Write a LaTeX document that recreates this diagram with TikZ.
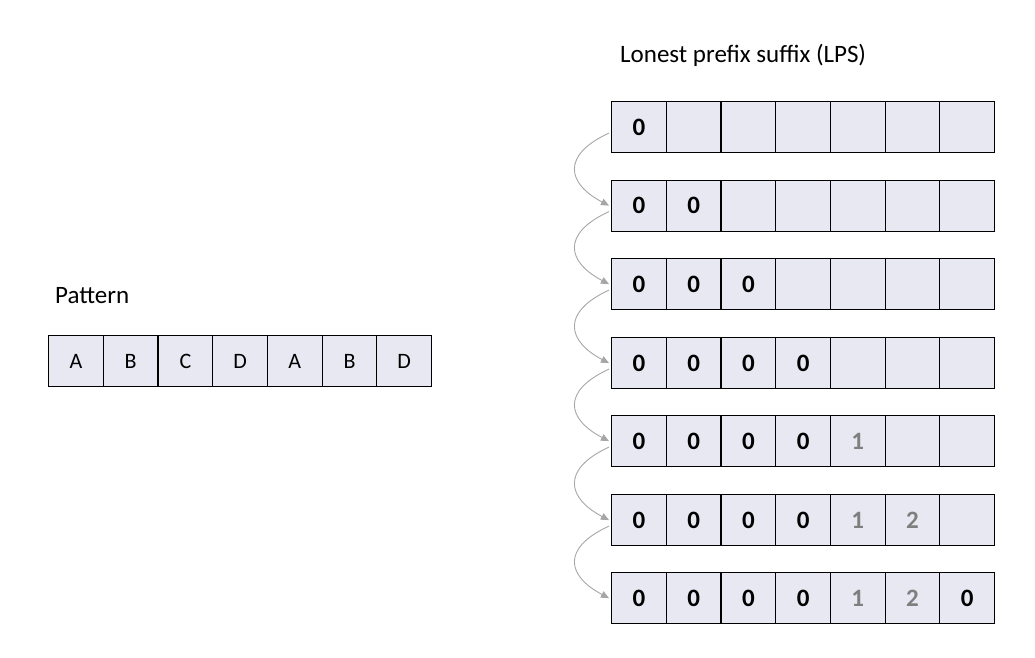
\documentclass[tikz,border=0pt]{standalone}
\usepackage{fontspec}
\setmainfont{Carlito}
\usetikzlibrary{arrows.meta}
\definecolor{cellfill}{HTML}{E8E8F3}
\definecolor{arrgray}{HTML}{A6A6A6}
\definecolor{numgray}{HTML}{7F7F7F}
\begin{document}
\begin{tikzpicture}[x=1pt,y=-1pt,
  cell/.style={draw=black, line width=1.2pt, fill=cellfill, minimum width=54.7pt, minimum height=51pt, inner sep=0pt, anchor=north west},
  pcell/.style={cell, font=\fontsize{22}{26}\selectfont},
  num/.style={font=\fontsize{25}{28}\selectfont\bfseries},
  gnum/.style={num, text=numgray},
  arr/.style={draw=arrgray, line width=0.9pt, -{Triangle[length=8pt,width=7pt]}},
  label/.style={anchor=west, inner sep=0pt, font=\fontsize{25}{28}\selectfont}]
\useasboundingbox (0,0) rectangle (1035,657);
\node[label] (title) at (620,55) {Lonest prefix suffix (LPS)};
\node[label] (pat) at (55,296) {Pattern};
% pattern row
\foreach \t [count=\j] in {A,B,C,D,A,B,D}
  \node[pcell] (p\j) at ({48+(\j-1)*54.71},335) {\t};
% LPS rows
\foreach \top [count=\i] in {101,179.5,258,337,415,494,572}{
  \foreach \j in {1,...,7}
    \node[cell] (r\i c\j) at ({611+(\j-1)*54.71},\top) {};
}
\foreach \i in {1,...,7}{
  \foreach \j in {1,...,4}{
    \pgfmathtruncatemacro{\ok}{\j<=\i ? 1 : 0}
    \ifnum\ok=1 \node[num] (z\i\j) at (r\i c\j) {0}; \fi
  }
}
\foreach \i in {5,6,7} \node[gnum] (o\i) at (r\i c5) {1};
\foreach \i in {6,7} \node[gnum] (t\i) at (r\i c6) {2};
\node[num] (z77) at (r7c7) {0};
% arrows
\foreach \i [evaluate=\i as \n using int(\i+1)] in {1,...,6}
  \draw[arr] ([xshift=-2pt,yshift=-6pt]r\i c1.west) .. controls +(-48,22) and +(-42,-22) .. ([xshift=-2pt]r\n c1.west);
\end{tikzpicture}
\end{document}
